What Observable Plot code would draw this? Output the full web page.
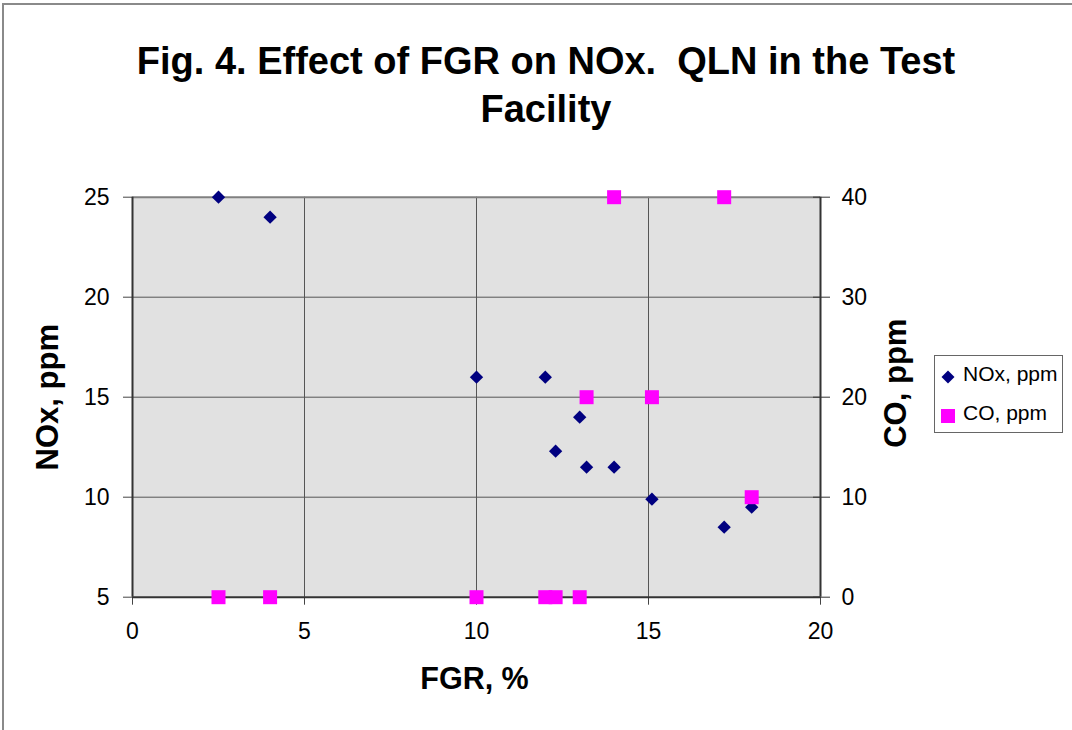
<!DOCTYPE html>
<html>
<head>
<meta charset="utf-8">
<script src="https://cdn.jsdelivr.net/npm/d3@7"></script>
<script src="https://cdn.jsdelivr.net/npm/@observablehq/plot@0.6"></script>
<style>
  html, body { margin: 0; padding: 0; background: #fff; }
  #wrap { position: relative; width: 1072px; height: 730px; overflow: hidden; font-family: "Liberation Sans", Arial, sans-serif; }
  #outer { position: absolute; left: 2px; top: 3px; width: 1200px; height: 800px; border-top: 2px solid #8a8a8a; border-left: 2px solid #8a8a8a; }
  #chart { position: absolute; left: 0; top: 0; }
  #title { position: absolute; left: 0; width: 1092px; top: 37px; text-align: center; font-weight: bold; font-size: 38px; line-height: 48px; white-space: pre; color: #000; }
  #legend { position: absolute; left: 934px; top: 355px; width: 127px; height: 76px; border: 1px solid #666; background: #fff; }
  .item { position: absolute; left: 0; font-size: 21px; white-space: nowrap; color: #000; }
  .item svg { position: absolute; }
  .item span { position: absolute; left: 28px; }
</style>
</head>
<body>
<div id="wrap">
  <div id="outer"></div>
  <div id="chart"></div>
  <div id="title">Fig. 4. Effect of FGR on NOx.  QLN in the Test
Facility</div>
  <div id="legend"></div>
</div>
<script>
// ---- data ----
const fgr = [2.5, 4, 10, 12, 12.3, 13, 13.2, 14, 15.1, 17.2, 18];
const nox = [25, 24, 16, 16, 12.3, 14, 11.5, 11.5, 9.9, 8.5, 9.5];
const co  = [0, 0, 0, 0, 0, 0, 20, 40, 20, 40, 10];

const xTicks = [0, 5, 10, 15, 20];
const noxTicks = [5, 10, 15, 20, 25];
const coTicks = [0, 10, 20, 30, 40];

const seriesNames = ["NOx, ppm", "CO, ppm"];
const seriesColors = ["#000080", "#ff00ff"];

const xLabel = "FGR, %";
const yLabel = "NOx, ppm";
const y2Label = "CO, ppm";

// secondary axis (CO 0..40) mapped onto the NOx scale (5..25)
const coToY = c => 5 + c * (25 - 5) / 40;
const yToCo = y => Math.round((y - 5) * 40 / (25 - 5));

const rows = fgr.map((f, i) => ({fgr: f, nox: nox[i], co: co[i], coY: coToY(co[i])}));

const font = "Liberation Sans, Arial, sans-serif";

const chart = Plot.plot({
  width: 1072,
  height: 730,
  marginLeft: 132,
  marginRight: 252,
  marginTop: 196.7,
  marginBottom: 133.3,
  style: {fontFamily: font, fontSize: "23px", color: "#000", background: "transparent"},
  x: {domain: [0, 20]},
  y: {domain: [5, 25]},
  marks: [
    Plot.frame({fill: "#e1e1e1", stroke: null}),
    Plot.gridX({ticks: [5, 10, 15], stroke: "#555", strokeOpacity: 1, strokeWidth: 1}),
    Plot.gridY({ticks: [10, 15, 20], stroke: "#555", strokeOpacity: 1, strokeWidth: 1}),
    Plot.ruleY([25], {stroke: "#808080", strokeWidth: 2}),
    Plot.axisX({ticks: xTicks, tickSize: 8, tickPadding: 17, fontSize: 23, label: null, stroke: "#444"}),
    Plot.axisY({ticks: noxTicks, tickSize: 9, tickPadding: 14, fontSize: 23, label: null, stroke: "#444"}),
    Plot.axisY({anchor: "right", ticks: coTicks.map(coToY), tickFormat: yToCo, tickSize: 17, dx: -8, tickPadding: 12, fontSize: 23, label: null, stroke: "#333"}),
    Plot.ruleX([0, 20], {stroke: "#333", strokeWidth: 2}),
    Plot.ruleY([5], {stroke: "#333", strokeWidth: 2}),
    Plot.dot(rows, {x: "fgr", y: "nox", symbol: "diamond2", r: 6, fill: seriesColors[0], stroke: null}),
    Plot.dot(rows, {x: "fgr", y: "coY", symbol: "square", r: 7.9, fill: seriesColors[1], stroke: null}),
    Plot.text([yLabel], {frameAnchor: "left", textAnchor: "middle", rotate: -90, dx: -84, fontSize: 31, fontWeight: "bold", fill: "#000"}),
    Plot.text([y2Label], {frameAnchor: "right", textAnchor: "middle", rotate: -90, dx: 76, dy: -14, fontSize: 31, fontWeight: "bold", fill: "#000"}),
    Plot.text([xLabel], {frameAnchor: "bottom", dx: -2, dy: 92, fontSize: 30.5, fontWeight: "bold", fill: "#000"})
  ]
});
document.getElementById("chart").appendChild(chart);

// legend
const legend = document.getElementById("legend");
const shapes = [
  '<svg width="16" height="16" style="left:5px;top:13px"><path d="M8,1.5L14.5,8L8,14.5L1.5,8Z" fill="' + seriesColors[0] + '"/></svg>',
  '<svg width="16" height="16" style="left:5px;top:52px"><rect x="1" y="1" width="14" height="14" fill="' + seriesColors[1] + '"/></svg>'
];
seriesNames.forEach((name, i) => {
  const d = document.createElement("div");
  d.className = "item";
  d.innerHTML = shapes[i] + '<span style="top:' + (i === 0 ? 6 : 45) + 'px">' + name + '</span>';
  legend.appendChild(d);
});
</script>
</body>
</html>
